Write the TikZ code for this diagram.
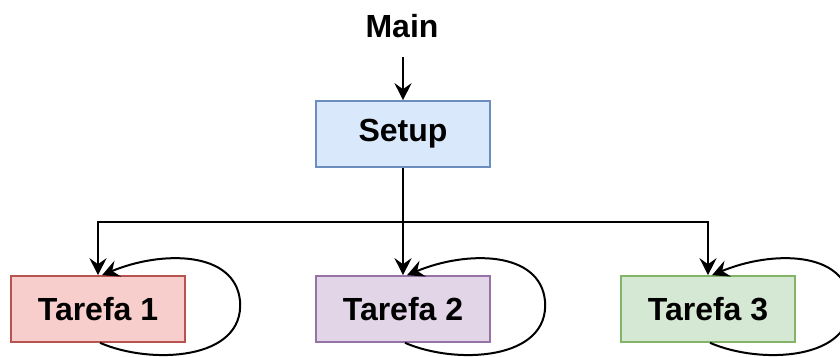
\documentclass[tikz,border=0pt]{standalone}
\usepackage{fontspec}
\setmainfont{Liberation Sans}
\usetikzlibrary{arrows.meta,calc}
\definecolor{bluefill}{HTML}{DAE8FC}\definecolor{bluedraw}{HTML}{6C8EBF}
\definecolor{redfill}{HTML}{F8CECC}\definecolor{reddraw}{HTML}{B85450}
\definecolor{purplefill}{HTML}{E1D5E7}\definecolor{purpledraw}{HTML}{9673A6}
\definecolor{greenfill}{HTML}{D5E8D4}\definecolor{greendraw}{HTML}{82B366}
\tikzset{
  label text/.style={font=\fontsize{32}{32}\selectfont\bfseries},
  box/.style={draw=#1draw, fill=#1fill, line width=1.6pt, minimum width=174pt,
    minimum height=66pt, inner sep=0pt, label text},
  link/.style={line width=2pt, -{Stealth[length=17pt,width=17pt,inset=6pt]}},
}
\begin{document}
\begin{tikzpicture}[x=1pt,y=-1pt]
\useasboundingbox (0,0) rectangle (840,356);
\clip (0,0) rectangle (840,356);
\node[label text] (main) at (402,26) {Main};
\coordinate (mainend) at (403,57);
\node[box=blue] (setup) at (403,134) {Setup};
\node[box=red] (t1) at (98,309) {Tarefa 1};
\node[box=purple] (t2) at (403,309) {Tarefa 2};
\node[box=green] (t3) at (708,309) {Tarefa 3};
\coordinate (split) at (403,222);

\draw[link] (mainend) -- (setup.north);
\draw[line width=2pt] (setup.south) -- (split);
\draw[link] (split) -- (t2.north);
\draw[link] (split) -| (t1.north);
\draw[link] (split) -| (t3.north);

\foreach \t in {t1,t2,t3}{
  \draw[link] ($(\t.south)+(2,0)$)
    .. controls +(50,22) and +(5,60) .. ($(\t.south)+(142,-42)$)
    .. controls +(-5,-50) and +(60,-25) .. ($(\t.north)+(4,0)$);
}
\end{tikzpicture}
\end{document}
